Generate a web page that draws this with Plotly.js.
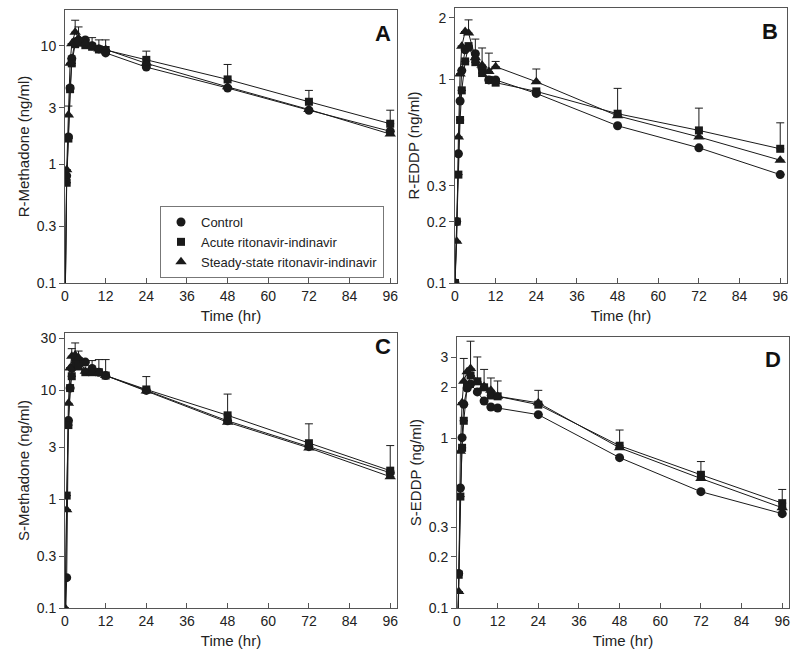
<!DOCTYPE html>
<html>
<head>
<meta charset="utf-8">
<script src="https://cdn.plot.ly/plotly-3.0.1.min.js"></script>
<style>html,body{margin:0;padding:0;background:#fff;}#chart{width:800px;height:659px;}</style>
</head>
<body>
<div id="chart"></div>
<script>
// ---- data ----
const TIME = [0, 0.5, 1, 1.5, 2, 3, 4, 6, 8, 10, 12, 24, 48, 72, 96];
const SERIES_NAMES = ["Control", "Acute ritonavir-indinavir", "Steady-state ritonavir-indinavir"];
const X_TICKS = [0, 12, 24, 36, 48, 60, 72, 84, 96];

// Panel A: R-Methadone
const A_control = [0.05, 0.8, 1.7, 4.4, 7.8, 10.8, 11.1, 11.2, 10.0, 9.4, 8.7, 6.6, 4.4, 2.86, 1.9];
const A_acute   = [0.05, 0.7, 1.65, 4.3, 7.1, 10.3, 10.6, 10.1, 9.8, 9.3, 9.2, 7.6, 5.2, 3.37, 2.2];
const A_steady  = [0.05, 0.9, 2.6, 7.1, 10.4, 13.0, 11.5, 10.5, 9.9, 9.4, 9.3, 7.1, 4.5, 2.9, 1.8];
const A_control_sd = [null, null, null, null, null, null, 3.3, null, null, null, null, null, null, null, null];
const A_acute_sd   = [null, null, null, null, null, null, null, null, 1.9, 1.9, 2.0, 1.4, 1.75, 0.83, 0.66];
const A_steady_sd  = [null, null, 0.5, null, null, 3.4, null, null, null, null, null, null, null, null, null];
const A_ticks = [0.1, 0.3, 1, 3, 10];

// Panel B: R-EDDP
const B_control = [0.1, 0.2, 0.43, 0.78, 1.10, 1.39, 1.43, 1.33, 1.13, 0.99, 0.99, 0.85, 0.59, 0.46, 0.34];
const B_acute   = [0.1, 0.2, 0.34, 0.63, 0.88, 1.22, 1.45, 1.21, 1.07, 0.99, 0.96, 0.87, 0.676, 0.56, 0.455];
const B_steady  = [0.1, 0.16, 0.52, 1.06, 1.45, 1.71, 1.68, 1.27, 1.17, 1.09, 1.15, 0.97, 0.66, 0.52, 0.40];
const B_control_sd = [null, null, null, null, null, null, null, 0.24, null, null, null, null, null, null, null];
const B_acute_sd   = [null, null, null, null, null, null, null, null, null, null, null, null, 0.224, 0.16, 0.155];
const B_steady_sd  = [null, null, null, null, null, null, 0.27, null, 0.25, 0.25, 0.07, 0.15, null, null, null];
const B_ticks = [0.1, 0.2, 0.3, 1, 2];

// Panel C: S-Methadone
const C_control = [0.05, 0.19, 5.3, 10.5, 16.0, 19.9, 19.0, 18.2, 15.9, 14.7, 13.7, 10.0, 5.25, 3.04, 1.75];
const C_acute   = [0.05, 1.08, 4.8, 10.5, 13.5, 18.0, 16.6, 14.7, 14.7, 14.7, 13.7, 10.2, 5.9, 3.27, 1.83];
const C_steady  = [0.1, 0.8, 7.6, 16.1, 20.6, 21.2, 20.0, 15.0, 14.7, 14.5, 13.7, 9.9, 5.1, 2.96, 1.61];
const C_control_sd = [null, null, null, null, null, null, 4.0, null, null, null, null, null, null, null, null];
const C_acute_sd   = [null, null, null, null, null, null, null, null, 4.1, 4.5, 5.5, 3.2, 3.35, 1.66, 1.28];
const C_steady_sd  = [null, null, null, null, 3.6, 6.1, null, null, null, null, null, null, null, null, null];
const C_ticks = [0.1, 0.3, 1, 3, 10, 30];

// Panel D: S-EDDP
const D_control = [0.05, 0.16, 0.51, 1.01, 1.59, 1.98, 2.09, 1.88, 1.66, 1.53, 1.51, 1.38, 0.77, 0.485, 0.36];
const D_acute   = [0.05, 0.157, 0.454, 0.88, 1.27, 2.02, 2.35, 2.17, 2.0, 1.79, 1.77, 1.58, 0.905, 0.61, 0.415];
const D_steady  = [0.05, 0.125, 0.84, 1.62, 2.17, 2.47, 2.58, 2.15, 2.02, 1.92, 1.77, 1.62, 0.88, 0.58, 0.39];
const D_control_sd = [null, null, null, null, null, null, null, null, null, null, null, null, null, null, null];
const D_acute_sd   = [null, null, null, null, null, null, null, 0.85, null, null, 0.41, null, 0.215, 0.12, 0.085];
const D_steady_sd  = [null, null, null, null, 0.79, null, 1.16, null, 0.53, 0.35, null, 0.30, null, null, null];
const D_ticks = [0.1, 0.2, 0.3, 1, 2, 3];

// ---- build ----
const INK = '#1a1a1a';
const AXC = '#555';
const FONT = 'Liberation Sans, Arial, sans-serif';
const SYMBOLS = ['circle', 'square', 'triangle-up'];
const SIZES = [9, 8, 10];

function nanify(a) { return a.map(v => (v === null ? NaN : v)); }

const panels = [
  {ax: '', data: [A_control, A_acute, A_steady], sd: [A_control_sd, A_acute_sd, A_steady_sd]},
  {ax: '2', data: [B_control, B_acute, B_steady], sd: [B_control_sd, B_acute_sd, B_steady_sd]},
  {ax: '3', data: [C_control, C_acute, C_steady], sd: [C_control_sd, C_acute_sd, C_steady_sd]},
  {ax: '4', data: [D_control, D_acute, D_steady], sd: [D_control_sd, D_acute_sd, D_steady_sd]},
];

const traces = [];
panels.forEach(p => {
  p.data.forEach((vals, i) => {
    traces.push({
      x: TIME, y: vals, type: 'scatter', mode: 'lines+markers',
      xaxis: 'x' + p.ax, yaxis: 'y' + p.ax, showlegend: false, name: SERIES_NAMES[i],
      line: {color: INK, width: 1},
      marker: {symbol: SYMBOLS[i], size: SIZES[i], color: INK, line: {width: 0}},
      error_y: {type: 'data', symmetric: false, array: nanify(p.sd[i]),
                arrayminus: p.sd[i].map(() => 0), color: INK, thickness: 1, width: 4, visible: true},
      cliponaxis: true
    });
  });
});
// legend-only entries
SERIES_NAMES.forEach((n, i) => {
  traces.push({x: [null], y: [null], type: 'scatter', mode: 'markers', name: n,
    xaxis: 'x', yaxis: 'y', showlegend: true,
    marker: {symbol: SYMBOLS[i], size: SIZES[i], color: INK}});
});

const W = 800, H = 659;
function dx(a, b) { return [a / W, b / W]; }
function dy(top, bot) { return [1 - bot / H, 1 - top / H]; }

function xax(dom, anchor) {
  return {domain: dom, anchor: anchor, range: [0, 98], tickvals: X_TICKS,
    ticks: 'inside', ticklen: 5, tickcolor: AXC, showline: true, mirror: true,
    linecolor: AXC, linewidth: 1, showgrid: false, zeroline: false,
    tickfont: {family: FONT, size: 14, color: '#222'},
    title: {text: 'Time (hr)', font: {family: FONT, size: 15, color: '#222'}, standoff: 7}};
}
function yax(dom, anchor, top, ticks, title) {
  return {domain: dom, anchor: anchor, type: 'log', range: [-1, Math.log10(top)],
    tickvals: ticks, ticktext: ticks.map(String),
    ticks: 'outside', ticklen: 5, tickcolor: AXC, showline: true, mirror: true,
    linecolor: AXC, linewidth: 1, showgrid: false, zeroline: false,
    tickfont: {family: FONT, size: 14, color: '#222'},
    title: {text: title, font: {family: FONT, size: 15, color: '#222'}, standoff: 3}};
}
function yr(over, anchor, top, ticks) {
  return {overlaying: over, anchor: anchor, side: 'right', type: 'log', range: [-1, Math.log10(top)],
    tickvals: ticks, ticks: 'inside', ticklen: 5, tickcolor: AXC, showticklabels: false,
    showline: false, showgrid: false, zeroline: false};
}

const xA = dx(65, 397), xB = dx(455, 787), xC = dx(65, 397), xD = dx(457, 789);
const yA = dy(10, 283), yB = dy(8, 283), yC = dy(333, 608), yD = dy(337, 608);

const layout = {
  width: W, height: H, margin: {l: 0, r: 0, t: 0, b: 0},
  paper_bgcolor: '#fff', plot_bgcolor: '#fff',
  font: {family: FONT, color: '#222'},
  xaxis: xax(xA, 'y'), yaxis: yax(yA, 'x', 20, A_ticks, 'R-Methadone (ng/ml)'),
  xaxis2: xax(xB, 'y2'), yaxis2: yax(yB, 'x2', 2.23, B_ticks, 'R-EDDP (ng/ml)'),
  xaxis3: xax(xC, 'y3'), yaxis3: yax(yC, 'x3', 33.7, C_ticks, 'S-Methadone (ng/ml)'),
  xaxis4: xax(xD, 'y4'), yaxis4: yax(yD, 'x4', 3.96, D_ticks, 'S-EDDP (ng/ml)'),
  yaxis5: yr('y', 'x', 20, A_ticks),
  yaxis6: yr('y2', 'x2', 2.23, B_ticks),
  yaxis7: yr('y3', 'x3', 33.7, C_ticks),
  yaxis8: yr('y4', 'x4', 3.96, D_ticks),
  showlegend: true,
  legend: {x: 160 / W, y: 1 - 206 / H, xanchor: 'left', yanchor: 'top',
    bgcolor: '#fff', bordercolor: '#777', borderwidth: 1,
    font: {family: FONT, size: 13, color: '#222'}, tracegroupgap: 0},
  annotations: [
    {text: '<b>A</b>', xref: 'paper', yref: 'paper', x: 383 / W, y: 1 - 34 / H, showarrow: false,
     font: {family: FONT, size: 22, color: '#111'}, xanchor: 'center', yanchor: 'middle'},
    {text: '<b>B</b>', xref: 'paper', yref: 'paper', x: 770 / W, y: 1 - 32 / H, showarrow: false,
     font: {family: FONT, size: 22, color: '#111'}, xanchor: 'center', yanchor: 'middle'},
    {text: '<b>C</b>', xref: 'paper', yref: 'paper', x: 383 / W, y: 1 - 346 / H, showarrow: false,
     font: {family: FONT, size: 22, color: '#111'}, xanchor: 'center', yanchor: 'middle'},
    {text: '<b>D</b>', xref: 'paper', yref: 'paper', x: 773 / W, y: 1 - 360 / H, showarrow: false,
     font: {family: FONT, size: 22, color: '#111'}, xanchor: 'center', yanchor: 'middle'}
  ]
};

Plotly.newPlot('chart', traces, layout, {staticPlot: true, displayModeBar: false});
</script>
</body>
</html>
